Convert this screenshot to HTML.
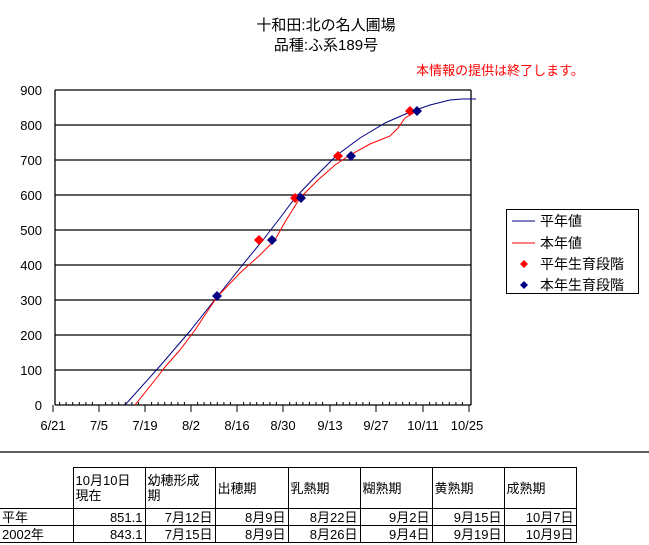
<!DOCTYPE html>
<html><head><meta charset="utf-8"><style>
body{margin:0;width:649px;height:545px;background:#fff;overflow:hidden;position:relative;font-family:"Liberation Sans","Noto Sans CJK JP",sans-serif}
svg{position:absolute;left:0;top:0}
table{position:absolute;left:0;top:467px;border-collapse:collapse;font-size:13px;table-layout:fixed}
td{border:1px solid #000;padding:0 2px;line-height:15px;height:16px;vertical-align:middle}
td.r{text-align:right}
td.n{border-left:none;border-top:none;border-bottom:none}
</style></head><body>
<svg width="649" height="545" font-family="Liberation Sans, Noto Sans CJK JP, sans-serif">
<text x="326" y="30" font-size="15" text-anchor="middle">十和田:北の名人圃場</text>
<text x="326" y="50" font-size="15" text-anchor="middle">品種:ふ系189号</text>
<text x="500" y="75" font-size="13" fill="#f00" text-anchor="middle">本情報の提供は終了します。</text>
<g stroke="#000" stroke-width="1.3">
<line x1="55" y1="90" x2="471" y2="90"/><line x1="55" y1="125" x2="471" y2="125"/><line x1="55" y1="160" x2="471" y2="160"/><line x1="55" y1="195" x2="471" y2="195"/><line x1="55" y1="230" x2="471" y2="230"/><line x1="55" y1="265" x2="471" y2="265"/><line x1="55" y1="300" x2="471" y2="300"/><line x1="55" y1="335" x2="471" y2="335"/><line x1="55" y1="370" x2="471" y2="370"/><line x1="55" y1="405" x2="471" y2="405"/>
<line x1="55" y1="90" x2="55" y2="405"/><line x1="471" y1="90" x2="471" y2="405"/>
</g>
<g stroke="#000" stroke-width="1">
<line x1="53" y1="405" x2="53" y2="412"/><line x1="99" y1="405" x2="99" y2="412"/><line x1="145" y1="405" x2="145" y2="412"/><line x1="191" y1="405" x2="191" y2="412"/><line x1="237" y1="405" x2="237" y2="412"/><line x1="283" y1="405" x2="283" y2="412"/><line x1="330" y1="405" x2="330" y2="412"/><line x1="376" y1="405" x2="376" y2="412"/><line x1="423" y1="405" x2="423" y2="412"/><line x1="469" y1="405" x2="469" y2="412"/>
</g>
<path stroke="#000" stroke-width="1" d="M59.6,402v3M66.1,402v3M72.7,402v3M79.3,402v3M85.9,402v3M92.4,402v3M105.6,402v3M112.1,402v3M118.7,402v3M125.3,402v3M131.9,402v3M138.4,402v3M151.6,402v3M158.1,402v3M164.7,402v3M171.3,402v3M177.9,402v3M184.4,402v3M197.6,402v3M204.1,402v3M210.7,402v3M217.3,402v3M223.9,402v3M230.4,402v3M243.6,402v3M250.1,402v3M256.7,402v3M263.3,402v3M269.9,402v3M276.4,402v3M289.7,402v3M296.3,402v3M302.9,402v3M309.4,402v3M316,402v3M322.6,402v3M336.6,402v3M343.1,402v3M349.7,402v3M356.3,402v3M362.9,402v3M369.4,402v3M382.7,402v3M389.4,402v3M396,402v3M402.7,402v3M409.4,402v3M416,402v3M429.6,402v3M436.1,402v3M442.7,402v3M449.3,402v3M455.9,402v3M462.4,402v3"/>
<g font-size="13" text-anchor="end">
<text x="42" y="95">900</text><text x="42" y="130">800</text><text x="42" y="165">700</text><text x="42" y="200">600</text><text x="42" y="235">500</text><text x="42" y="270">400</text><text x="42" y="305">300</text><text x="42" y="340">200</text><text x="42" y="375">100</text><text x="42" y="410">0</text>
</g>
<g font-size="13" text-anchor="middle">
<text x="53" y="430">6/21</text><text x="99" y="430">7/5</text><text x="145" y="430">7/19</text><text x="191" y="430">8/2</text><text x="237" y="430">8/16</text><text x="283" y="430">8/30</text><text x="330" y="430">9/13</text><text x="376" y="430">9/27</text><text x="423" y="430">10/11</text><text x="467" y="430">10/25</text>
</g>
<path d="M125,405 L160,366 L190,331 L217,297 L240,268 L263,240 L280,218 L295,198 L315,177 L337,155 L360,138 L385,123 L410,112 L430,105 L450,100 L462,99 L476,99" fill="none" stroke="#000080" stroke-width="1"/>
<path d="M135,405 L155,380 L165,367 L180,350 L195,330 L217,297 L240,273 L260,255 L275,240 L285,222 L300,198 L318,180 L335,165 L350,155 L370,144 L390,136 L398,128 L405,118 L417,111" fill="none" stroke="#f00" stroke-width="1"/>
<g fill="#f00">
<path d="M259,235 l5,5 -5,5 -5,-5z"/><path d="M295,193 l5,5 -5,5 -5,-5z"/><path d="M338,151 l5,5 -5,5 -5,-5z"/><path d="M410,106 l5,5 -5,5 -5,-5z"/>
</g>
<g fill="#000080">
<path d="M217,291 l5,5 -5,5 -5,-5z"/><path d="M272,235 l5,5 -5,5 -5,-5z"/><path d="M301,193 l5,5 -5,5 -5,-5z"/><path d="M351,151 l5,5 -5,5 -5,-5z"/><path d="M417,106 l5,5 -5,5 -5,-5z"/>
</g>
<rect x="506.5" y="209.5" width="132" height="84" fill="none" stroke="#000"/>
<line x1="512" y1="221" x2="535" y2="221" stroke="#000080"/>
<line x1="512" y1="243" x2="535" y2="243" stroke="#f00"/>
<path d="M524,260 l4,4 -4,4 -4,-4z" fill="#f00"/>
<path d="M524,281 l4,4 -4,4 -4,-4z" fill="#000080"/>
<g font-size="14"><text x="540" y="226">平年値</text><text x="540" y="248">本年値</text><text x="540" y="269">平年生育段階</text><text x="540" y="290">本年生育段階</text></g>
<line x1="0" y1="452" x2="649" y2="452" stroke="#000" stroke-width="1.2"/>
</svg>
<table>
<colgroup><col style="width:73px"><col style="width:72px"><col style="width:70px"><col style="width:73px"><col style="width:72px"><col style="width:72px"><col style="width:72px"><col style="width:72px"></colgroup>
<tr style="height:41px"><td class="n" style="border-right:1px solid #000"></td><td>10月10日<br>現在</td><td>幼穂形成<br>期</td><td>出穂期</td><td>乳熱期</td><td>糊熟期</td><td>黄熟期</td><td>成熟期</td></tr>
<tr><td style="border-left:none">平年</td><td class="r">851.1</td><td class="r">7月12日</td><td class="r">8月9日</td><td class="r">8月22日</td><td class="r">9月2日</td><td class="r">9月15日</td><td class="r">10月7日</td></tr>
<tr><td style="border-left:none">2002年</td><td class="r">843.1</td><td class="r">7月15日</td><td class="r">8月9日</td><td class="r">8月26日</td><td class="r">9月4日</td><td class="r">9月19日</td><td class="r">10月9日</td></tr>
</table>
</body></html>
